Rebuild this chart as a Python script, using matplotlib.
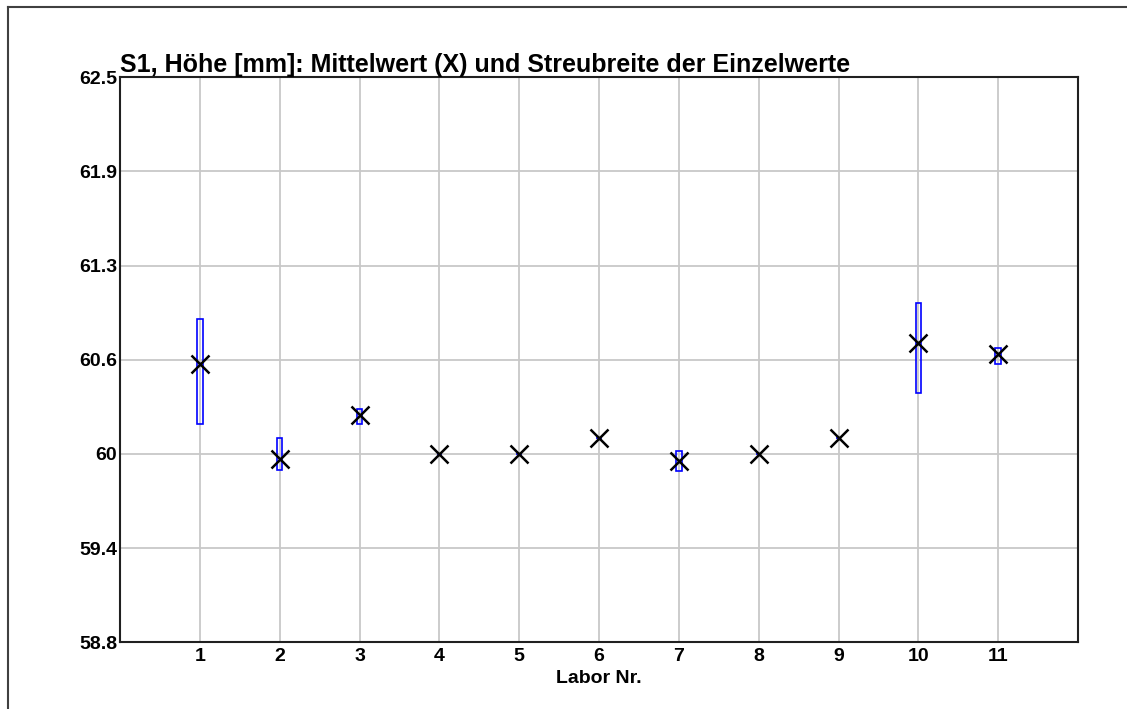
import numpy as np
import matplotlib
matplotlib.use("Agg")
import matplotlib.pyplot as plt
from matplotlib.lines import Line2D

# Labor-Nummern und Messwerte (Hoehe in mm)
labs = [1, 2, 3, 4, 5, 6, 7, 8, 9, 10, 11]
mean_vals = [60.62, 60.00, 60.29, 60.03, 60.03, 60.14, 59.99, 60.03, 60.14, 60.76, 60.69]
min_vals = [60.23, 59.93, 60.23, 60.03, 60.03, 60.14, 59.92, 60.03, 60.14, 60.43, 60.62]
max_vals = [60.92, 60.14, 60.33, 60.03, 60.03, 60.14, 60.05, 60.03, 60.14, 61.02, 60.73]

y_ticks = np.linspace(58.8, 62.5, 7)
y_labels = ["58.8", "59.4", "60", "60.6", "61.3", "61.9", "62.5"]

plt.rcParams['font.family'] = ['Liberation Sans', 'DejaVu Sans']

fig = plt.figure(figsize=(11.27, 7.09), dpi=100)
ax = fig.add_axes([120 / 1127, 1 - 642.3 / 709, (1078 - 120) / 1127, (642.3 - 77.3) / 709])

lo = np.array(min_vals)
hi = np.array(max_vals)
ax.bar(labs, hi - lo, bottom=lo, width=0.07, fill=False, edgecolor='#0000ff',
       linewidth=1.2, zorder=3)
ax.plot(labs, mean_vals, linestyle='none', marker='x', markersize=13,
        markeredgewidth=1.8, color='black', zorder=4)

ax.set_xlim(0, 12)
ax.set_ylim(58.8, 62.5)
ax.set_xticks(labs)
ax.set_xticklabels([str(l) for l in labs], fontsize=14, fontweight='bold')
ax.set_yticks(y_ticks)
ax.set_yticklabels(y_labels, fontsize=14, fontweight='bold')
ax.tick_params(axis='x', length=0, pad=4)
ax.tick_params(axis='y', length=0, pad=2)
ax.grid(True, color='#c8c8c8', linewidth=1.3, zorder=0)
ax.set_axisbelow(True)
for s in ax.spines.values():
    s.set_linewidth(1.5)
    s.set_color('#202020')

ax.set_xlabel("Labor Nr.", fontsize=14, fontweight='bold', labelpad=4)
ax.set_title("S1, Höhe [mm]: Mittelwert (X) und Streubreite der Einzelwerte",
             loc='left', fontsize=18, fontweight='bold', pad=4)

# Rahmen um die Grafik (links und oben sichtbar)
fx = 8 / 1127
fy = 1 - 7 / 709
fig.add_artist(Line2D([fx, fx], [0, fy], transform=fig.transFigure, color='#404040', lw=1.5))
fig.add_artist(Line2D([fx, 1], [fy, fy], transform=fig.transFigure, color='#404040', lw=1.5))

plt.savefig("out.png", dpi=100)
